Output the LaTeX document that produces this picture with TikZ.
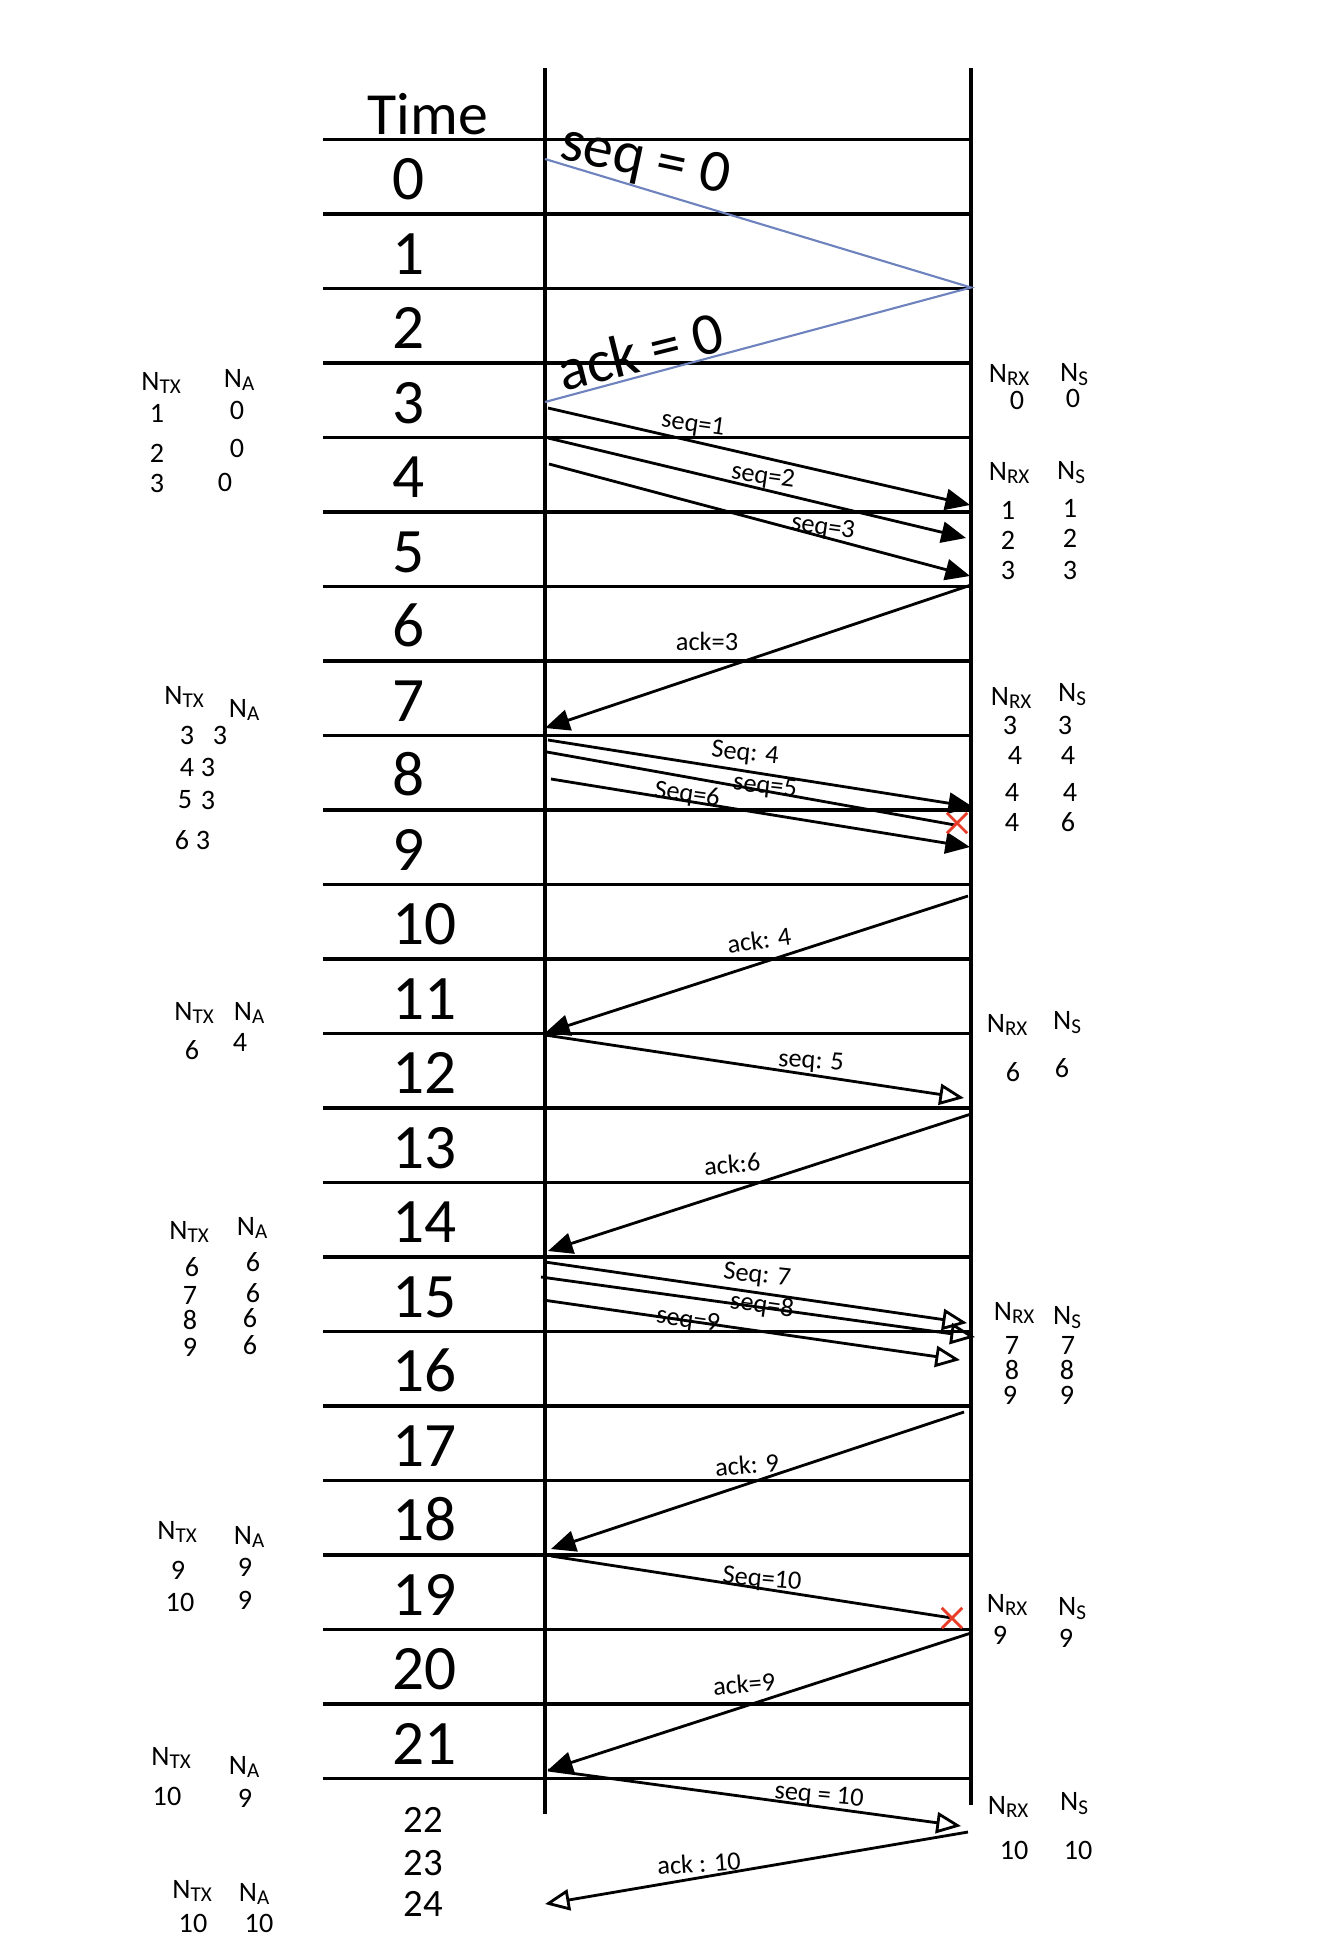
\documentclass[tikz,border=0pt]{standalone}
\usepackage{fontspec}
\setmainfont{Carlito}
\usetikzlibrary{arrows.meta, shapes.misc}

\definecolor{firstblue}{RGB}{110,130,190}
\definecolor{lostred}{RGB}{230,60,40}
\newcommand{\Nsub}[1]{N\textsubscript{#1}}

\tikzset{
  row line/.style = {line width=1pt},
  life line/.style = {line width=1.1pt},
  first msg/.style = {line width=0.6pt, draw=firstblue},
  msg/.style = {line width=0.8pt, -{Triangle[length=7pt,width=6pt]}},
  msg open/.style = {line width=0.8pt, -{Triangle[open,length=7pt,width=6pt]}},
  lost/.style = {line width=0.8pt},
  lost mark/.style = {draw=lostred, cross out, line width=0.8pt, minimum size=5pt, inner sep=0pt},
  big/.style = {font=\fontsize{18}{20}\selectfont, inner sep=0pt},
  hand/.style = {font=\fontsize{8}{9}\selectfont, inner sep=0pt},
  msglabel/.style = {font=\fontsize{7.5}{9}\selectfont, inner sep=0pt},
}

\begin{document}
\begin{tikzpicture}[x=0.01cm, y=-0.01cm]
  \useasboundingbox (0,0) rectangle (1334,1951);

  % lifelines
  \coordinate (Ltop) at (545,68);
  \coordinate (Lbot) at (545,1814);
  \coordinate (Rtop) at (971,68);
  \coordinate (Rbot) at (971,1805);
  \draw [life line] (Ltop)--(Lbot);
  \draw [life line] (Rtop)--(Rbot);

  % time rows
  \node [big, font=\fontsize{17}{20}\selectfont] (time) at (428,114) {Time};
  \foreach \k in {0,...,22} {
    \coordinate (g\k) at (323,{139.4+74.5*\k});
    \draw [row line] (g\k) -- ++(648,0);
  }
  \foreach \k in {0,...,21} {
    \node [big, anchor=base west] (t\k) at (392,{139.4+74.5*(\k+1)-14}) {\k};
  }
  \foreach \k/\y in {22/1820, 23/1863, 24/1904} {
    \node [big, font=\fontsize{11}{12}\selectfont] (t\k) at (423,\y) {\k};
  }

  % first exchange (blue)
  \coordinate (s0a) at (545,159);
  \coordinate (s0b) at (971,287.5);
  \coordinate (a0b) at (545,402);
  \draw [first msg] (s0a)--(s0b)--(a0b);
  \node [big, font=\fontsize{17}{20}\selectfont, rotate=-12] (s0lab) at (645,162) {seq = 0};
  \node [big, font=\fontsize{17}{20}\selectfont, rotate=14] (a0lab) at (640,351) {ack = 0};

  % messages
  \foreach \m/\xa/\ya/\xb/\yb/\st in {
      s1/548/408/970/505/msg, s2/548/438/966/538/msg, s3/549/464/970/576/msg,
      a3/971/585/545/728/msg,
      s4/548/740/973/807/msg, s5/547/752/955/825/lost, s6/551/779/970/847/msg,
      a4/968/896/545/1033/msg, s5r/545/1035/964/1098/msg open,
      a6/971/1114/548/1251/msg,
      s7/545/1262/967/1323/msg open, s8/541/1277/975/1337/msg open, s9/543/1300/960/1360/msg open,
      a9/964/1412/551/1549/msg, s10/551/1556/952/1618/lost,
      a9r/971/1633/548/1770/msg, s10r/548/1770/961/1826/msg open,
      a10/968/1832/545/1904/msg open} {
    \coordinate (\m a) at (\xa,\ya);
    \coordinate (\m b) at (\xb,\yb);
    \draw [\st] (\m a)--(\m b);
  }
  \node [lost mark] (x5) at (957,823) {};
  \node [lost mark] (x10) at (952,1618) {};

  % message labels
  \foreach \n/\x/\y/\r/\txt in {
      l1/693/425/-8/seq=1, l2/763/477/-8/seq=2, l3/823/528/-8/seq=3,
      la3/707/641/0/ack=3,
      l4/745/754/-6/Seq: 4, l5/765/787/-6/seq=5, l6/687/795/-8/Seq=6,
      la4/759/940/8/ack: 4, l5r/811/1062/-4/seq: 5, la6/732/1164/5/ack:6,
      l7/757/1276/-6/Seq: 7, l8/762/1306/-8/seq=8, l9/688/1321/-8/seq=9,
      la9/747/1465/5/ack: 9, l10/762/1580/-5/Seq=10,
      la9r/744/1684/5/ack=9, l10r/819/1796/-5/seq = 10, la10/699/1863/4/ack : 10} {
    \node [msglabel, rotate=\r] (\n) at (\x,\y) {\txt};
  }

  % counters: headers
  \foreach \x/\y/\s [count=\i] in {
      162/383/TX, 240/380/A, 185/697/TX, 245/710/A, 195/1013/TX, 250/1013/A,
      190/1232/TX, 253/1228/A, 178/1532/TX, 250/1537/A, 172/1758/TX, 245/1767/A,
      193/1891/TX, 255/1894/A,
      1010/375/RX, 1075/375/S, 1010/473/RX, 1072/473/S, 1012/698/RX, 1073/695/S,
      1008/1025/RX, 1068/1023/S, 1015/1313/RX, 1068/1318/S, 1008/1605/RX, 1073/1609/S,
      1009/1807/RX, 1075/1804/S} {
    \node [hand] (h\i) at (\x,\y) {\Nsub{\s}};
  }

  % counters: values
  \foreach \x/\y/\v [count=\i] in {
      157/413/1, 237/410/0, 157/453/2, 237/448/0, 157/483/3, 225/482/0,
      187/735/3, 220/735/3, 187/767/4, 208/767/3, 185/800/5, 208/800/3, 182/840/6, 203/840/3,
      192/1050/6, 240/1042/4,
      192/1267/6, 253/1262/6, 190/1295/7, 253/1293/6, 190/1320/8, 250/1318/6, 190/1347/9, 250/1345/6,
      178/1570/9, 245/1567/9, 180/1602/10, 245/1600/9,
      167/1796/10, 245/1798/9,
      193/1923/10, 259/1923/10,
      1017/400/0, 1073/398/0,
      1008/510/1, 1070/508/1, 1008/540/2, 1070/538/2, 1008/570/3, 1070/570/3,
      1010/725/3, 1065/725/3, 1015/755/4, 1068/755/4, 1012/792/4, 1070/792/4, 1012/822/4, 1068/822/6,
      1013/1072/6, 1062/1068/6,
      1012/1345/7, 1068/1345/7, 1012/1370/8, 1067/1370/8, 1010/1395/9, 1067/1395/9,
      1000/1635/9, 1066/1638/9,
      1014/1850/10, 1078/1850/10} {
    \node [hand] (v\i) at (\x,\y) {\v};
  }
\end{tikzpicture}
\end{document}
